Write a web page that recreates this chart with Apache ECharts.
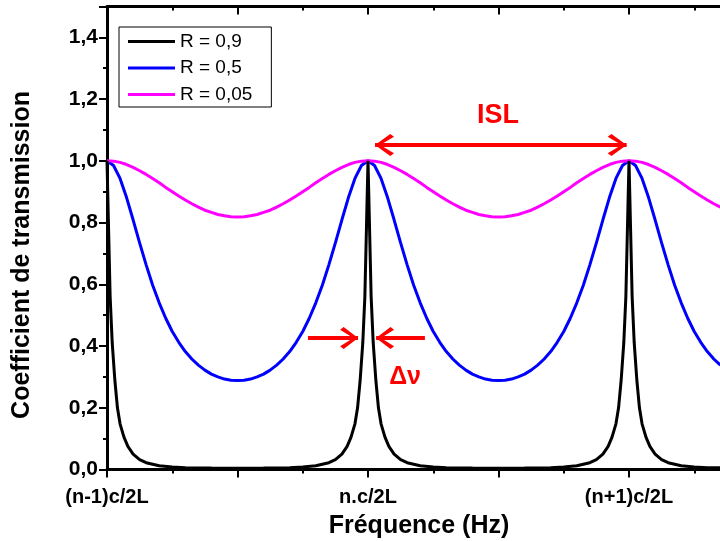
<!DOCTYPE html>
<html>
<head>
<meta charset="utf-8">
<script src="https://cdn.jsdelivr.net/npm/echarts@6/dist/echarts.min.js"></script>
<style>
html,body{margin:0;padding:0;background:#fff;overflow:hidden;width:720px;height:541px;}
#chart{width:760px;height:541px;}
</style>
</head>
<body>
<div id="chart"></div>
<script>
// ---- data ----
const seriesNames = ['R = 0,9', 'R = 0,5', 'R = 0,05'];
const xTickValues = [-1, 0, 1];
const xTickLabels = ['(n-1)c/2L', 'n.c/2L', '(n+1)c/2L'];

// sampling positions (in free spectral ranges) for R = 0,5 and R = 0,05
const freq = [
 -1, -0.975, -0.95, -0.925, -0.9, -0.875, -0.85, -0.825, -0.8, -0.775, -0.75, -0.725, -0.7, -0.675, -0.65, -0.625, -0.6, -0.575, -0.55, -0.525, -0.5,
 -0.475, -0.45, -0.425, -0.4, -0.375, -0.35, -0.325, -0.3, -0.275, -0.25, -0.225, -0.2, -0.175, -0.15, -0.125, -0.1, -0.075, -0.05, -0.025, 0,
 0.025, 0.05, 0.075, 0.1, 0.125, 0.15, 0.175, 0.2, 0.225, 0.25, 0.275, 0.3, 0.325, 0.35, 0.375, 0.4, 0.425, 0.45, 0.475, 0.5,
 0.525, 0.55, 0.575, 0.6, 0.625, 0.65, 0.675, 0.7, 0.725, 0.75, 0.775, 0.8, 0.825, 0.85, 0.875, 0.9, 0.925, 0.95, 0.975, 1,
 1.025, 1.05, 1.075, 1.1, 1.125, 1.15, 1.175, 1.2, 1.225, 1.25, 1.275, 1.3, 1.325, 1.35
];
const transR05 = [
 1, 0.985, 0.943, 0.881, 0.809, 0.734, 0.663, 0.597, 0.540, 0.490, 0.447, 0.412, 0.382, 0.358, 0.338, 0.322, 0.309, 0.300, 0.293, 0.289, 0.288,
 0.289, 0.293, 0.300, 0.309, 0.322, 0.338, 0.358, 0.382, 0.412, 0.447, 0.490, 0.540, 0.597, 0.663, 0.734, 0.809, 0.881, 0.943, 0.985, 1,
 0.985, 0.943, 0.881, 0.809, 0.734, 0.663, 0.597, 0.540, 0.490, 0.447, 0.412, 0.382, 0.358, 0.338, 0.322, 0.309, 0.300, 0.293, 0.289, 0.288,
 0.289, 0.293, 0.300, 0.309, 0.322, 0.338, 0.358, 0.382, 0.412, 0.447, 0.490, 0.540, 0.597, 0.663, 0.734, 0.809, 0.881, 0.943, 0.985, 1,
 0.985, 0.943, 0.881, 0.809, 0.734, 0.663, 0.597, 0.540, 0.490, 0.447, 0.412, 0.382, 0.358, 0.338
];
const transR005 = [
 1, 0.999, 0.995, 0.988, 0.979, 0.968, 0.956, 0.943, 0.929, 0.914, 0.900, 0.886, 0.873, 0.861, 0.850, 0.840, 0.833, 0.826, 0.822, 0.819, 0.818,
 0.819, 0.822, 0.826, 0.833, 0.840, 0.850, 0.861, 0.873, 0.886, 0.900, 0.914, 0.929, 0.943, 0.956, 0.968, 0.979, 0.988, 0.995, 0.999, 1,
 0.999, 0.995, 0.988, 0.979, 0.968, 0.956, 0.943, 0.929, 0.914, 0.900, 0.886, 0.873, 0.861, 0.850, 0.840, 0.833, 0.826, 0.822, 0.819, 0.818,
 0.819, 0.822, 0.826, 0.833, 0.840, 0.850, 0.861, 0.873, 0.886, 0.900, 0.914, 0.929, 0.943, 0.956, 0.968, 0.979, 0.988, 0.995, 0.999, 1,
 0.999, 0.995, 0.988, 0.979, 0.968, 0.956, 0.943, 0.929, 0.914, 0.900, 0.886, 0.873, 0.861, 0.850
];

// R = 0,9 : denser sampling around the sharp peaks
const freqR09 = [
 -1, -0.994, -0.988, -0.98, -0.97, -0.96, -0.95, -0.935, -0.92, -0.9, -0.875, -0.85, -0.8, -0.75, -0.7, -0.6, -0.5,
 -0.4, -0.3, -0.25, -0.2, -0.15, -0.125, -0.1, -0.08, -0.065, -0.05, -0.04, -0.03, -0.02, -0.012, -0.006, 0,
 0.006, 0.012, 0.02, 0.03, 0.04, 0.05, 0.065, 0.08, 0.1, 0.125, 0.15, 0.2, 0.25, 0.3, 0.4, 0.5,
 0.6, 0.7, 0.75, 0.8, 0.85, 0.875, 0.9, 0.92, 0.935, 0.95, 0.96, 0.97, 0.98, 0.988, 0.994, 1,
 1.006, 1.012, 1.02, 1.03, 1.04, 1.05, 1.065, 1.08, 1.1, 1.125, 1.15, 1.2, 1.25, 1.3, 1.35
];
const transR09 = [
 1, 0.78, 0.56, 0.41, 0.29, 0.2, 0.148, 0.105, 0.075, 0.05, 0.032, 0.022, 0.012, 0.008, 0.006, 0.0045, 0.004,
 0.0045, 0.006, 0.008, 0.012, 0.022, 0.032, 0.05, 0.075, 0.105, 0.148, 0.2, 0.29, 0.41, 0.56, 0.78, 1,
 0.78, 0.56, 0.41, 0.29, 0.2, 0.148, 0.105, 0.075, 0.05, 0.032, 0.022, 0.012, 0.008, 0.006, 0.0045, 0.004,
 0.0045, 0.006, 0.008, 0.012, 0.022, 0.032, 0.05, 0.075, 0.105, 0.148, 0.2, 0.29, 0.41, 0.56, 0.78, 1,
 0.78, 0.56, 0.41, 0.29, 0.2, 0.148, 0.105, 0.075, 0.05, 0.032, 0.022, 0.012, 0.008, 0.006, 0.0055
];

// annotations (data coordinates)
const islArrow = {y: 1.051, x1: 0.027, x2: 0.991, labelX: 0.498, labelY: 1.148, text: 'ISL'};
const dnuArrow = {y: 0.426, leftTail: -0.23, leftTip: -0.038, rightTip: 0.031, rightTail: 0.218, labelX: 0.142, labelY: 0.30, text: 'Δν'};

// ---- chart ----
const FONT = '"Liberation Sans", Arial, sans-serif';
const chevR = 'path://M3,0 L15,10 L3,20 L0,17.5 L11,10 L0,2.5 Z';
const chevL = 'path://M12,0 L0,10 L12,20 L15,17.5 L4,10 L15,2.5 Z';
const pairs = (xs, ys) => xs.map((x, i) => [x, ys[i]]);
const RED = '#ff0000';

const chart = echarts.init(document.getElementById('chart'), null, {renderer: 'canvas'});

const axisLineStyle = {color: '#000', width: 3};
const tickStyle = {color: '#000', width: 2};

const option = {
  animation: false,
  backgroundColor: '#fff',
  grid: {left: 107, width: 652.5, top: 6.5, height: 463, containLabel: false},
  legend: {
    orient: 'vertical', left: 119, top: 27,
    padding: [5, 19, 3, 9], itemGap: 7.5,
    itemWidth: 47, itemHeight: 3, icon: 'rect',
    borderColor: '#000', borderWidth: 1,
    textStyle: {fontSize: 19, color: '#000', fontFamily: FONT, lineHeight: 19},
    data: seriesNames
  },
  xAxis: [{
    type: 'value', min: -1, max: 1.5, interval: 0.5, position: 'bottom',
    axisLine: {show: true, onZero: false, lineStyle: axisLineStyle},
    axisTick: {show: true, length: 8, lineStyle: tickStyle},
    minorTick: {show: true, splitNumber: 2, length: 4, lineStyle: tickStyle},
    splitLine: {show: false},
    axisLabel: {
      margin: 18, color: '#000', fontSize: 20, fontWeight: 'bold', fontFamily: FONT,
      showMaxLabel: false,
      formatter: v => { const i = xTickValues.findIndex(t => Math.abs(t - v) < 1e-9); return i >= 0 ? xTickLabels[i] : ''; }
    }
  }, {
    type: 'value', min: -1, max: 1.5, interval: 0.5, position: 'top',
    axisLine: {show: true, onZero: false, lineStyle: axisLineStyle},
    axisTick: {show: true, inside: true, length: 8, lineStyle: tickStyle},
    minorTick: {show: true, splitNumber: 2, length: 4, lineStyle: tickStyle},
    splitLine: {show: false},
    axisLabel: {show: false}
  }],
  yAxis: {
    type: 'value', min: 0, max: 1.5, interval: 0.2,
    axisLine: {show: true, onZero: false, lineStyle: axisLineStyle},
    axisTick: {show: true, length: 8, lineStyle: tickStyle},
    minorTick: {show: true, splitNumber: 2, length: 4, lineStyle: tickStyle},
    splitLine: {show: false},
    axisLabel: {
      margin: 9, color: '#000', fontSize: 21, fontWeight: 'bold', fontFamily: FONT,
      formatter: v => (v > 1.45 ? '' : v.toFixed(1).replace('.', ','))
    }
  },
  graphic: [
    {type: 'text', x: 419, y: 526, silent: true,
     style: {text: 'Fréquence (Hz)', fill: '#000', font: 'bold 25px ' + FONT, align: 'center', verticalAlign: 'middle'}},
    {type: 'text', x: 22, y: 255, rotation: Math.PI / 2, silent: true,
     style: {text: 'Coefficient de transmission', fill: '#000', font: 'bold 25px ' + FONT, align: 'center', verticalAlign: 'middle'}}
  ],
  series: [
    {
      name: seriesNames[0], type: 'line', data: pairs(freqR09, transR09), z: 5,
      symbol: 'none', showSymbol: false, color: '#000',
      lineStyle: {color: '#000', width: 3}
    },
    {
      name: seriesNames[1], type: 'line', data: pairs(freq, transR05), z: 3,
      symbol: 'none', showSymbol: false, color: '#0000ff',
      lineStyle: {color: '#0000ff', width: 3}
    },
    {
      name: seriesNames[2], type: 'line', data: pairs(freq, transR005), z: 4,
      symbol: 'none', showSymbol: false, color: '#ff00ff',
      lineStyle: {color: '#ff00ff', width: 3}
    },
    {
      name: 'annotations', type: 'line', data: [], z: 6, silent: true,
      markLine: {
        silent: true, symbol: ['none', 'none'], animation: false,
        label: {show: false},
        lineStyle: {color: RED, width: 4, type: 'solid'},
        data: [
          [{coord: [islArrow.x1, islArrow.y]}, {coord: [islArrow.x2, islArrow.y]}],
          [{coord: [dnuArrow.leftTail, dnuArrow.y]}, {coord: [dnuArrow.leftTip, dnuArrow.y]}],
          [{coord: [dnuArrow.rightTip, dnuArrow.y]}, {coord: [dnuArrow.rightTail, dnuArrow.y]}]
        ]
      },
      markPoint: {
        silent: true, animation: false,
        itemStyle: {color: RED},
        label: {show: false},
        data: [
          {coord: [islArrow.x1, islArrow.y], symbol: chevL, symbolSize: [19, 22], symbolOffset: [9.5, 0]},
          {coord: [islArrow.x2, islArrow.y], symbol: chevR, symbolSize: [19, 22], symbolOffset: [-9.5, 0]},
          {coord: [dnuArrow.leftTip, dnuArrow.y], symbol: chevR, symbolSize: [18, 22], symbolOffset: [-9, 0]},
          {coord: [dnuArrow.rightTip, dnuArrow.y], symbol: chevL, symbolSize: [18, 22], symbolOffset: [9, 0]},
          {coord: [islArrow.labelX, islArrow.labelY], symbol: 'circle', symbolSize: 1,
           itemStyle: {color: 'rgba(0,0,0,0)'},
           label: {show: true, position: 'inside', formatter: islArrow.text, color: RED, fontSize: 27, fontWeight: 'bold', fontFamily: FONT}},
          {coord: [dnuArrow.labelX, dnuArrow.labelY], symbol: 'circle', symbolSize: 1,
           itemStyle: {color: 'rgba(0,0,0,0)'},
           label: {show: true, position: 'inside', formatter: dnuArrow.text, color: RED, fontSize: 25, fontWeight: 'bold', fontFamily: FONT}}
        ]
      }
    }
  ]
};
chart.setOption(option);
</script>
</body>
</html>
